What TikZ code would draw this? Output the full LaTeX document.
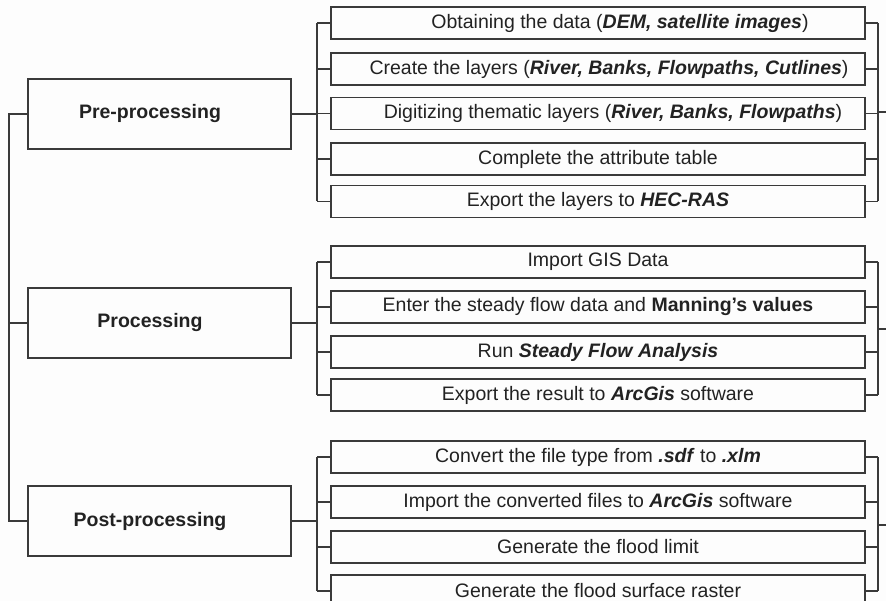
\documentclass[tikz,border=0pt]{standalone}
\usepackage{fontspec}
\setmainfont{Liberation Sans}
\usetikzlibrary{calc,positioning}
\definecolor{linegray}{HTML}{3a3a3a}
\definecolor{textgray}{HTML}{222222}
\definecolor{paper}{HTML}{fdfdfd}
\newcommand{\bitext}[1]{\textbf{\textit{#1}}}

\begin{document}
\begin{tikzpicture}[
    x=1pt, y=-1pt,
    stage/.style={draw=linegray, line width=1.4pt, minimum width=263pt,
                  minimum height=70pt, inner sep=0pt},
    stagelabel/.style={font=\fontsize{19.5}{22}\selectfont\bfseries, text=textgray},
    task/.style={draw=linegray, line width=1.4pt, minimum width=534pt,
                 minimum height=32pt, inner sep=0pt},
    tasklabel/.style={font=\fontsize{19.5}{22}\selectfont, text=textgray},
    link/.style={draw=linegray, line width=1.6pt},
]

\def\sx{9}      % x of the main spine
\def\bx{317}    % x of the left brackets
\def\rx{878}    % x of the right brackets
\def\tx{598}    % centre x of the task boxes

\useasboundingbox (0,0) rectangle (886,601);
\fill[paper] (0,0) rectangle (886,601);
\clip (0,0) rectangle (886,601);

\coordinate (spine) at (\sx,0);

% ══════════════════════════════════════════════════════════════
% Stage boxes
% ══════════════════════════════════════════════════════════════
\node[stage, label={[stagelabel, xshift=-9.5pt]center:Pre-processing}]  (pre)  at (159.5,114) {};
\node[stage, label={[stagelabel, xshift=-9.5pt]center:Processing}]      (proc) at (159.5,323) {};
\node[stage, label={[stagelabel, xshift=-9.5pt]center:Post-processing}] (post) at (159.5,521) {};

% main spine on the left
\draw[link] (pre.west) -- (pre.west -| spine) |- (post.west);
\draw[link] (proc.west) -- (proc.west -| spine);

% ── Pre-processing tasks ──
\foreach \y/\dx/\txt [count=\i] in {
    23/22/{Obtaining the data (\bitext{DEM, satellite images})},
    69/11/{Create the layers (\bitext{River, Banks, Flowpaths, Cutlines})},
    113.5/15/{Digitizing thematic layers (\bitext{River, Banks, Flowpaths})},
    159/0/{Complete the attribute table},
    201.5/0/{Export the layers to \bitext{HEC-RAS}}} {
    \node[task, label={[tasklabel, xshift=\dx pt]center:{\txt}}] (pre-\i) at (\tx,\y) {};
}
\coordinate (preL) at (\bx,114);
\coordinate (preR) at (\rx,112);
\coordinate (preOut) at (886,112);
\foreach \i in {1,...,5} {
    \draw[link] (pre-\i.west) -- (pre-\i.west -| preL);
    \draw[link] (pre-\i.east) -- (pre-\i.east -| preR);
}
\draw[link] (pre-1.west -| preL) -- (pre-5.west -| preL);
\draw[link] (pre-1.east -| preR) -- (pre-5.east -| preR);
\draw[link] (pre.east) -- (preL);
\draw[link] (preR) -- (preOut);

% ── Processing tasks ──
\foreach \y/\txt [count=\i] in {
    262/{Import GIS Data},
    307/{Enter the steady flow data and \textbf{Manning’s values}},
    352/{Run \bitext{Steady Flow Analysis}},
    395/{Export the result to \bitext{ArcGis} software}} {
    \node[task, label={[tasklabel]center:{\txt}}] (proc-\i) at (\tx,\y) {};
}
\coordinate (procL) at (\bx,323);
\coordinate (procR) at (\rx,329);
\coordinate (procOut) at (886,329);
\foreach \i in {1,...,4} {
    \draw[link] (proc-\i.west) -- (proc-\i.west -| procL);
    \draw[link] (proc-\i.east) -- (proc-\i.east -| procR);
}
\draw[link] (proc-1.west -| procL) -- (proc-4.west -| procL);
\draw[link] (proc-1.east -| procR) -- (proc-4.east -| procR);
\draw[link] (proc.east) -- (procL);
\draw[link] (procR) -- (procOut);

% ── Post-processing tasks ──
\foreach \y/\txt [count=\i] in {
    457/{Convert the file type from \bitext{.sdf} to \bitext{.xlm}},
    502/{Import the converted files to \bitext{ArcGis} software},
    547/{Generate the flood limit},
    591/{Generate the flood surface raster}} {
    \node[task, label={[tasklabel]center:{\txt}}] (post-\i) at (\tx,\y) {};
}
\coordinate (postL) at (\bx,521);
\coordinate (postR) at (\rx,525);
\coordinate (postOut) at (886,525);
\foreach \i in {1,...,4} {
    \draw[link] (post-\i.west) -- (post-\i.west -| postL);
    \draw[link] (post-\i.east) -- (post-\i.east -| postR);
}
\draw[link] (post-1.west -| postL) -- (post-4.west -| postL);
\draw[link] (post-1.east -| postR) -- (post-4.east -| postR);
\draw[link] (post.east) -- (postL);
\draw[link] (postR) -- (postOut);

\end{tikzpicture}
\end{document}
